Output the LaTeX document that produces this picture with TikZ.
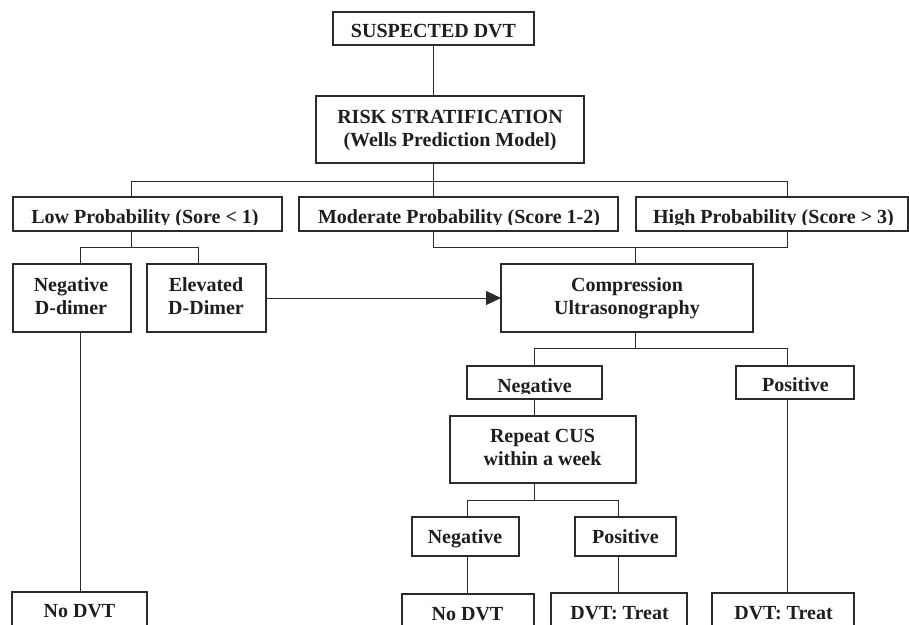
\documentclass[tikz,border=0pt]{standalone}
\usepackage{fontspec}
\setmainfont{Liberation Serif}
\usetikzlibrary{arrows.meta}
\definecolor{linec}{HTML}{2B2B2B}
\definecolor{txtc}{HTML}{1E1E1E}
\begin{document}
\begin{tikzpicture}[x=1pt,y=-1pt,
  box/.style={draw=linec, line width=1.3pt, inner sep=0pt, outer sep=0pt},
  txt/.style={anchor=base, inner sep=0pt, outer sep=0pt, text=txtc, font=\fontsize{20}{24}\selectfont\bfseries},
  conn/.style={draw=linec, line width=1pt},
  arr/.style={conn, -{Triangle[length=15pt,width=14pt]}}]
\useasboundingbox (0,0) rectangle (909,624);
\clip (0,0) rectangle (909,624);
\fill[white] (0,0) rectangle (909,624);

% boxes
\node[box, minimum width=201pt, minimum height=33pt] (sus) at (433.5,28.5) {};
\node[box, minimum width=268pt, minimum height=67pt] (risk) at (450,129.5) {};
\node[box, minimum width=269pt, minimum height=34pt] (low) at (147.5,214) {};
\node[box, minimum width=319pt, minimum height=34pt] (mod) at (458.5,214) {};
\node[box, minimum width=272pt, minimum height=34pt] (high) at (772,214) {};
\node[box, minimum width=118pt, minimum height=68pt] (negd) at (72,298) {};
\node[box, minimum width=119pt, minimum height=68pt] (elev) at (206.5,298) {};
\node[box, minimum width=252pt, minimum height=68pt] (cus) at (627,298) {};
\node[box, minimum width=135pt, minimum height=33pt] (cneg) at (534.5,382.5) {};
\node[box, minimum width=118pt, minimum height=33pt] (cpos) at (795,382.5) {};
\node[box, minimum width=186pt, minimum height=67pt] (rep) at (543,449.5) {};
\node[box, minimum width=107pt, minimum height=39pt] (rneg) at (465.5,536.5) {};
\node[box, minimum width=101pt, minimum height=39pt] (rpos) at (625.5,536.5) {};
\node[box, minimum width=135pt, minimum height=48pt] (nodvt1) at (79.5,616) {};
\node[box, minimum width=132pt, minimum height=46pt] (nodvt2) at (468,617) {};
\node[box, minimum width=136pt, minimum height=47pt] (treat1) at (619,616.5) {};
\node[box, minimum width=142pt, minimum height=47pt] (treat2) at (783,616.5) {};

% texts
\node[txt] (sus-t) at (433.5,37.5) {SUSPECTED DVT};
\node[txt] (risk-t1) at (450,123) {RISK STRATIFICATION};
\node[txt] (risk-t2) at (450,146) {(Wells Prediction Model)};
\begin{scope}
  \clip (13,197) rectangle (282,224.5);
  \node[txt] (low-t) at (145,223) {Low Probability (Sore < 1)};
\end{scope}
\begin{scope}
  \clip (299,197) rectangle (618,224.5);
  \node[txt] (mod-t) at (459,223) {Moderate Probability (Score 1-2)};
\end{scope}
\begin{scope}
  \clip (636,197) rectangle (909,224.5);
  \node[txt] (high-t) at (773.5,223) {High Probability (Score > 3)};
\end{scope}
\node[txt] (negd-t1) at (71,291.5) {Negative};
\node[txt] (negd-t2) at (71,314) {D-dimer};
\node[txt] (elev-t1) at (206,291.5) {Elevated};
\node[txt] (elev-t2) at (206,314) {D-Dimer};
\node[txt] (cus-t1) at (627,291.5) {Compression};
\node[txt] (cus-t2) at (627,314) {Ultrasonography};
\begin{scope}
  \clip (467,366) rectangle (602,393);
  \node[txt] (cneg-t) at (534.5,392) {Negative};
\end{scope}
\node[txt] (cpos-t) at (795.5,391.7) {Positive};
\node[txt] (rep-t1) at (542.5,442.7) {Repeat CUS};
\node[txt] (rep-t2) at (542.5,465) {within a week};
\node[txt] (rneg-t) at (465,543.3) {Negative};
\node[txt] (rpos-t) at (625.5,543.3) {Positive};
\node[txt] (nodvt1-t) at (79.5,617.5) {No DVT};
\node[txt] (nodvt2-t) at (467.5,620) {No DVT};
\node[txt] (treat1-t) at (619.5,619) {DVT: Treat};
\node[txt] (treat2-t) at (783.5,619.5) {DVT: Treat};

% junction coordinates
\coordinate (bus1L) at (131,181);
\coordinate (bus1M) at (433,181);
\coordinate (bus1R) at (787,181);
\coordinate (bus2L) at (80,247);
\coordinate (bus2R) at (198,247);
\coordinate (bus3L) at (433,247);
\coordinate (bus3M) at (635,247);
\coordinate (bus3R) at (787,247);
\coordinate (bus4L) at (534,348);
\coordinate (bus4M) at (635,348);
\coordinate (bus4R) at (787,348);
\coordinate (bus5L) at (467,500);
\coordinate (bus5M) at (534,500);
\coordinate (bus5R) at (618,500);

% connectors
\draw[conn] (sus.south) -- (sus.south |- risk.north);
\draw[conn] (risk.south -| bus1M) -- (bus1M |- mod.north);
\draw[conn] (bus1L |- low.north) -- (bus1L) -- (bus1R) -- (bus1R |- high.north);
\draw[conn] (low.south -| bus1L) -- (bus1L |- bus2L);
\draw[conn] (bus2L |- negd.north) -- (bus2L) -- (bus2R) -- (bus2R |- elev.north);
\draw[conn] (mod.south -| bus3L) -- (bus3L) -- (bus3R) -- (high.south -| bus3R);
\draw[conn] (bus3M) -- (bus3M |- cus.north);
\draw[arr] (elev.east) -- (cus.west);
\draw[conn] (cus.south -| bus4M) -- (bus4M);
\draw[conn] (bus4L |- cneg.north) -- (bus4L) -- (bus4R) -- (bus4R |- cpos.north);
\draw[conn] (cneg.south -| bus4L) -- (bus4L |- rep.north);
\draw[conn] (rep.south -| bus5M) -- (bus5M);
\draw[conn] (bus5L |- rneg.north) -- (bus5L) -- (bus5R) -- (bus5R |- rpos.north);
\draw[conn] (rneg.south -| bus5L) -- (bus5L |- nodvt2.north);
\draw[conn] (rpos.south -| bus5R) -- (bus5R |- treat1.north);
\draw[conn] (cpos.south -| bus4R) -- (bus4R |- treat2.north);
\draw[conn] (negd.south -| bus2L) -- (bus2L |- nodvt1.north);
\end{tikzpicture}
\end{document}
